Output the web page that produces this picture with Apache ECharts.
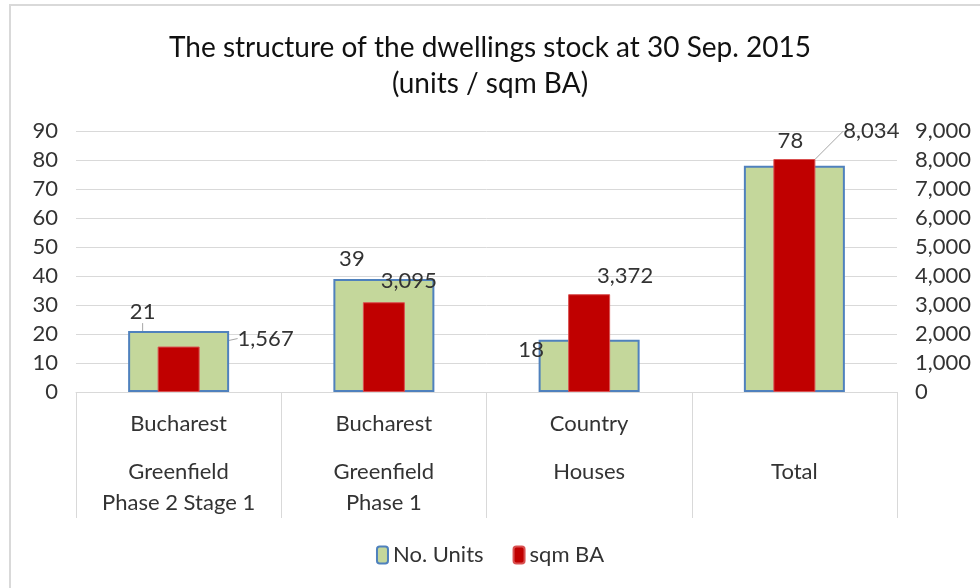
<!DOCTYPE html>
<html>
<head>
<meta charset="utf-8">
<script src="https://cdn.jsdelivr.net/npm/echarts@6/dist/echarts.min.js"></script>
<style>
html,body{margin:0;padding:0;background:#fff;}
#chart{width:980px;height:588px;}
</style>
</head>
<body>
<div id="chart"></div>
<script>
var titleText = 'The structure of the dwellings stock at 30 Sep. 2015\n(units / sqm BA)';
var categories = ['Bucharest\nGreenfield\nPhase 2 Stage 1', 'Bucharest\nGreenfield\nPhase 1', 'Country\nHouses', '\nTotal'];
var unitsName = 'No. Units';
var sqmName = 'sqm BA';
var unitsValues = [21, 39, 18, 78];
var sqmValues = [1567, 3095, 3372, 8034];
var leftTicks = [0, 90, 10];
var rightTicks = [0, 9000, 1000];

var FONT = 'Lato, "Open Sans", sans-serif';
var TXT = '#333333';
var FS = 22;

// label displacement (style only)
var unitsLabelShift = [[-36, -4, true], [-32, -5, false], [-58, 25, false], [-4, -10, false]];
var sqmLabelShift = [[87, 7, true], [25, -6, false], [36, -3, false], [77, -13, true]];

function fmt(v) { return v.toLocaleString('en-US'); }

function catLabel(v) {
  var parts = v.split('\n');
  var first = parts[0] === '' ? ' ' : parts[0];
  var s = '{a|' + first + '}';
  for (var i = 1; i < parts.length; i++) s += '\n{b|' + parts[i] + '}';
  return s;
}

var chart = echarts.init(document.getElementById('chart'), null, {renderer: 'canvas'});
var option = {
  backgroundColor: '#fff',
  animation: false,
  graphic: [{
    type: 'polyline', silent: true,
    shape: {points: [[10, 600], [10, 5], [990, 5]]},
    style: {stroke: '#d9d9d9', lineWidth: 2, fill: null}
  }],
  title: {
    text: titleText,
    left: 'center', top: 25,
    textStyle: {fontFamily: FONT, fontSize: 28, fontWeight: 'normal', color: '#111', lineHeight: 36}
  },
  legend: {
    bottom: 17, left: 'center',
    itemWidth: 11, itemHeight: 17, itemGap: 29,
    textStyle: {fontFamily: FONT, fontSize: FS, color: TXT},
    data: [unitsName, sqmName]
  },
  grid: {left: 76, right: 83, top: 131, bottom: 196},
  xAxis: [{
    type: 'category', data: categories,
    axisLine: {lineStyle: {color: '#d9d9d9', width: 1}},
    axisTick: {show: true, length: 126, lineStyle: {color: '#d9d9d9'}},
    axisLabel: {
      interval: 0, margin: 0, verticalAlign: 'top',
      formatter: catLabel,
      rich: {
        a: {fontFamily: FONT, fontSize: FS, color: TXT, lineHeight: 64},
        b: {fontFamily: FONT, fontSize: FS, color: TXT, lineHeight: 31}
      }
    }
  }, {
    type: 'category', data: categories, show: false
  }],
  yAxis: [{
    type: 'value', min: leftTicks[0], max: leftTicks[1], interval: leftTicks[2],
    axisLine: {show: false}, axisTick: {show: false},
    splitLine: {lineStyle: {color: '#d9d9d9'}},
    axisLabel: {fontFamily: FONT, fontSize: FS, color: TXT, margin: 18}
  }, {
    type: 'value', min: rightTicks[0], max: rightTicks[1], interval: rightTicks[2],
    axisLine: {show: false}, axisTick: {show: false},
    splitLine: {show: false},
    axisLabel: {fontFamily: FONT, fontSize: FS, color: TXT, margin: 18, formatter: fmt}
  }],
  series: [{
    name: unitsName, type: 'bar', xAxisIndex: 0, yAxisIndex: 0,
    barWidth: 101,
    itemStyle: {color: '#c4d79b', borderColor: '#4f81bd', borderWidth: 2},
    label: {show: true, position: 'top', distance: 4, fontFamily: FONT, fontSize: FS, color: TXT},
    labelLine: {show: false, lineStyle: {color: '#a6a6a6', width: 1}},
    labelLayout: function (p) {
      var s = unitsLabelShift[p.dataIndex];
      return {dx: s[0], dy: s[1]};
    },
    data: unitsValues.map(function (v, i) {
      return {value: v, labelLine: {show: unitsLabelShift[i][2]}};
    })
  }, {
    name: sqmName, type: 'bar', xAxisIndex: 1, yAxisIndex: 1,
    barWidth: 42,
    itemStyle: {color: '#c00000', borderColor: '#d95050', borderWidth: 1},
    label: {show: true, position: 'top', distance: 4, fontFamily: FONT, fontSize: FS, color: TXT, formatter: function (p) { return fmt(p.value); }},
    labelLine: {show: false, lineStyle: {color: '#a6a6a6', width: 1}},
    labelLayout: function (p) {
      var s = sqmLabelShift[p.dataIndex];
      return {dx: s[0], dy: s[1]};
    },
    data: sqmValues.map(function (v, i) {
      return {value: v, labelLine: {show: sqmLabelShift[i][2]}};
    })
  }]
};
chart.setOption(option);
</script>
</body>
</html>
